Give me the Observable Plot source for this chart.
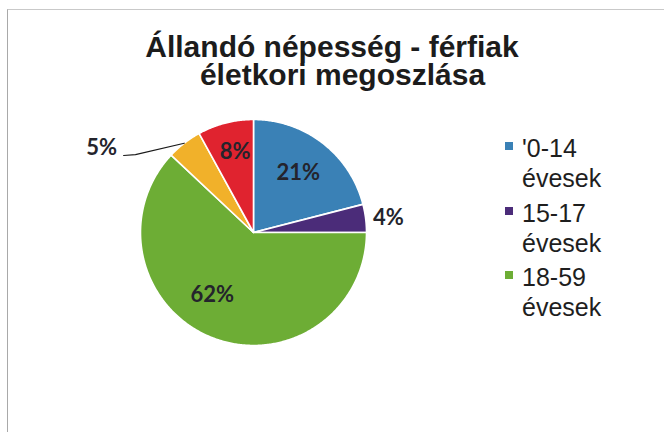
<!DOCTYPE html>
<html>
<head>
<meta charset="utf-8">
<script src="https://cdn.jsdelivr.net/npm/d3@7"></script>
<script src="https://cdn.jsdelivr.net/npm/@observablehq/plot@0.6"></script>
<style>
  html, body { margin: 0; padding: 0; background: #fff; }
  #wrap { position: relative; width: 664px; height: 432px; overflow: hidden; background: #fff; }
  #frame { position: absolute; left: 7px; top: 9px; width: 700px; height: 460px;
           border-top: 1px solid #c9c9c9; border-left: 1px solid #a9a9a9; }
  #chart { position: absolute; left: 0; top: 0; }
  #legend { position: absolute; left: 505px; top: 133px; font-family: "Liberation Sans", Arial, sans-serif;
            font-size: 25px; line-height: 30px; color: #1e1e1e; }
  .item { position: relative; padding-left: 17px; width: 110px; margin-bottom: 4.5px; }
  .sw { position: absolute; left: 0; top: 9px; width: 8px; height: 8px; }
</style>
</head>
<body>
<div id="wrap">
  <div id="frame"></div>
  <div id="chart"></div>
  <div id="legend"></div>
</div>
<script>
// ---- data ----
const titleLines = ["Állandó népesség - férfiak", "életkori megoszlása"];
const categories = ["'0-14 évesek", "15-17 évesek", "18-59 évesek", "60-64 évesek", "65 év felettiek"];
const shares = [21, 4, 62, 5, 8];
const valueLabels = ["21%", "4%", "62%", "5%", "8%"];
const legendShown = 3; // Excel legend is cut after three entries

// ---- styles / layout ----
const palette = ["#3a81b6", "#4b2c79", "#6dad35", "#f1b12a", "#e0232f"];
// label placement: radius (in pie radii) and angle offset (degrees) from slice middle
const labelPlacement = [
  {r: 0.66, da: -1}, {r: 1.2, da: 1}, {r: 0.66, da: 12}, {r: 1.54, da: -23}, {r: 0.73, da: 1.5}
];
const titleOffsets = [{dx: -0.5, dy: 35.5}, {dx: 10, dy: 63.5}];

// ---- geometry from the data ----
const arcs = d3.pie().sort(null).value(d => d)(shares);
const slicePts = [];
arcs.forEach((a, i) => {
  const cat = categories[i];
  slicePts.push({cat, x: 0, y: 0});
  const n = Math.max(2, Math.ceil((a.endAngle - a.startAngle) / 0.01));
  for (let k = 0; k <= n; k++) {
    const t = a.startAngle + (a.endAngle - a.startAngle) * k / n;
    slicePts.push({cat, x: Math.sin(t), y: Math.cos(t)});
  }
  slicePts.push({cat, x: 0, y: 0});
});
const labelPts = arcs.map((a, i) => {
  const p = labelPlacement[i];
  const t = (a.startAngle + a.endAngle) / 2 + p.da * Math.PI / 180;
  return {text: valueLabels[i], x: p.r * Math.sin(t), y: p.r * Math.cos(t), mid: (a.startAngle + a.endAngle) / 2};
});
// leader line for the 5% label
const l5 = labelPts[3];
const leader = [
  {x: Math.sin(l5.mid), y: Math.cos(l5.mid)},
  {x: l5.x + 0.30, y: l5.y - 0.062},
  {x: l5.x + 0.195, y: l5.y - 0.07}
];

const titleFont = {frameAnchor: "top", lineAnchor: "top",
  fontFamily: "'Liberation Sans', Arial, sans-serif", fontWeight: "bold", fontSize: 30, fill: "#1c1c1c"};

const chart = Plot.plot({
  width: 664,
  height: 432,
  margin: 0,
  x: {domain: [-1, 1], range: [140, 366], axis: null},
  y: {domain: [-1, 1], range: [345, 119], axis: null},
  color: {domain: categories, range: palette},
  style: {background: "transparent"},
  marks: [
    Plot.line(slicePts, {x: "x", y: "y", z: "cat", fill: "cat", stroke: "white", strokeWidth: 1.6, curve: "linear"}),
    Plot.line(leader, {x: "x", y: "y", stroke: "#1a1a1a", strokeWidth: 1.2}),
    Plot.text(labelPts, {x: "x", y: "y", text: "text", fontFamily: "Lato, 'Open Sans', sans-serif",
      fontWeight: "bold", fontSize: 22, fill: "#24242c"}),
    ...titleLines.map((t, i) => Plot.text([t], {...titleFont, ...titleOffsets[i]}))
  ]
});
document.getElementById("chart").appendChild(chart);

const legend = document.getElementById("legend");
categories.slice(0, legendShown).forEach((c, i) => {
  const item = document.createElement("div");
  item.className = "item";
  const sw = document.createElement("span");
  sw.className = "sw";
  sw.style.background = palette[i];
  item.appendChild(sw);
  item.appendChild(document.createTextNode(c));
  legend.appendChild(item);
});
</script>
</body>
</html>
